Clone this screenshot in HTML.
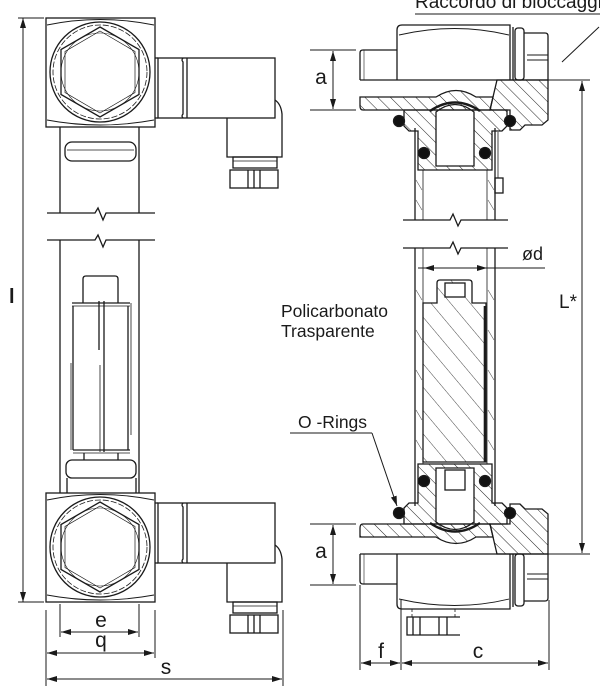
<!DOCTYPE html>
<html><head><meta charset="utf-8"><style>
html,body{margin:0;padding:0;background:#fff}
svg{display:block}
text{font-family:"Liberation Sans",Arial,sans-serif;fill:#1a1a1a}
</style></head><body>
<svg width="600" height="693" viewBox="0 0 600 693" xmlns="http://www.w3.org/2000/svg">
<defs>
<pattern id="h" patternUnits="userSpaceOnUse" width="9" height="9" patternTransform="rotate(-45)">
<line x1="0" y1="0" x2="0" y2="9" stroke="#222" stroke-width="1"/>
</pattern>
<pattern id="h2" patternUnits="userSpaceOnUse" width="9" height="9" patternTransform="rotate(45)">
<line x1="0" y1="0" x2="0" y2="9" stroke="#222" stroke-width="1"/>
</pattern>
<pattern id="hf" patternUnits="userSpaceOnUse" width="15" height="15" patternTransform="rotate(-40)">
<line x1="0" y1="0" x2="0" y2="15" stroke="#333" stroke-width="0.9"/>
</pattern>
<marker id="ar" viewBox="0 0 10 6" refX="10" refY="3" markerWidth="10" markerHeight="6" markerUnits="userSpaceOnUse" orient="auto-start-reverse">
<path d="M0,0 L10,3 L0,6 Z" fill="#1a1a1a"/>
</marker>

<g id="blk" fill="none" stroke="#1a1a1a" stroke-width="1.3">
<rect x="46" y="18" width="109" height="109"/>
<path d="M47,25 Q100,14 154,25" stroke-width="0.9"/>
<path d="M47,120 Q100,130 154,120" stroke-width="0.9"/>
<circle cx="100" cy="72" r="50"/>
<circle cx="100" cy="72" r="47" stroke-width="0.8" stroke-dasharray="6 2"/>
<polygon points="100,27 139,49.5 139,94.5 100,117 61,94.5 61,49.5"/>
<polygon points="100,31 135,51.5 135,92.5 100,113 65,92.5 65,51.5" stroke-width="0.7"/>
<circle cx="100" cy="72" r="39" stroke-width="0.6"/>
</g>

<g id="con" fill="none" stroke="#1a1a1a" stroke-width="1.3">
<line x1="155" y1="58" x2="158" y2="58"/>
<line x1="155" y1="118" x2="158" y2="118"/>
<rect x="158" y="58" width="117" height="60"/>
<path d="M183,58 Q181,60 183,62 V114 Q181,116 183,118"/>
<path d="M187,58 V118"/>
<path d="M227,118 V157 H282 V114 Q281,104 275,100"/>
<rect x="233" y="157" width="44" height="11"/>
<line x1="233" y1="161" x2="277" y2="161" stroke-width="0.7"/>
<rect x="230" y="170" width="48" height="18"/>
<line x1="248" y1="170" x2="248" y2="188"/>
<line x1="254" y1="170" x2="254" y2="188"/>
<line x1="260" y1="170" x2="260" y2="188"/>
</g>

<g id="fitbase" stroke="#1a1a1a" stroke-width="1.3">
<path d="M397,80 V30 Q397,25 402,25 H510 V80" fill="none"/>
<path d="M399,35 Q455,22 509,35" fill="none" stroke-width="0.9"/>
<line x1="513" y1="27" x2="513" y2="80"/>
<path d="M397,50 H363 Q360,50 360,53 V80" fill="none"/>
<line x1="364" y1="50" x2="364" y2="80" stroke-width="0.6"/>
<rect x="515" y="28" width="9" height="52" rx="3" fill="none"/>
<path d="M524,33 H545 Q548,33 548,36 V80" fill="none"/>
<line x1="527" y1="55" x2="548" y2="55" stroke-width="0.9"/>
<line x1="527" y1="60" x2="548" y2="60" stroke-width="0.9"/>
<line x1="360" y1="80" x2="548" y2="80"/>
<path d="M430,111 Q455,94 480,111" fill="none" stroke-width="2.4"/>
<circle cx="399" cy="121" r="5.5" fill="#111"/>
<circle cx="510" cy="121" r="5.5" fill="#111"/>
<circle cx="424" cy="153" r="5.5" fill="#111"/>
<circle cx="485" cy="153" r="5.5" fill="#111"/>
</g>
<g id="fit" stroke="#1a1a1a" stroke-width="1.3">
<path d="M360,97 H436 Q456,84 476,97 H493 L490,110 H363 Q360,110 360,106 Z" fill="url(#h)"/>
<path d="M497,80 H548 V120 L542,125 H525 L520,130 H510 V110 H490 L493,97 Z" fill="url(#h)"/>
<path fill-rule="evenodd" fill="url(#h)" d="M404,110 H507 V126 L502,131 H492 V170 H418 V131 H409 L404,126 Z M436,112 Q455,97 474,112 V166 H436 Z"/>
<use href="#fitbase"/>
</g>
<g id="fitB" stroke="#1a1a1a" stroke-width="1.3">
<path d="M360,97 H436 Q456,84 476,97 H493 L490,110 H363 Q360,110 360,106 Z" fill="url(#h2)"/>
<path d="M497,80 H548 V120 L542,125 H525 L520,130 H510 V110 H490 L493,97 Z" fill="url(#h2)"/>
<path fill-rule="evenodd" fill="url(#h2)" d="M404,110 H507 V126 L502,131 H492 V170 H418 V131 H409 L404,126 Z M436,112 Q455,97 474,112 V166 H436 Z"/>
<use href="#fitbase"/>
</g>
</defs>

<g fill="none" stroke="#1a1a1a" stroke-width="1.3">
<!-- LEFT VIEW -->
<use href="#blk"/>
<use href="#blk" transform="translate(0,475)"/>
<use href="#con"/>
<use href="#con" transform="translate(0,445)"/>

<line x1="60" y1="127" x2="60" y2="213"/>
<line x1="139" y1="127" x2="139" y2="213"/>
<line x1="60" y1="240" x2="60" y2="493"/>
<line x1="139" y1="240" x2="139" y2="493"/>
<rect x="65" y="142" width="71" height="19" rx="7"/>
<line x1="67" y1="150" x2="134" y2="150" stroke-width="0.8"/>
<path d="M47,213 H95 L98,208 L103,220 L106,213 H155"/>
<path d="M47,240 H95 L98,235 L103,247 L106,240 H155"/>

<path d="M83,303 V279 Q83,276 86,276 H115 Q118,276 118,279 V303"/>
<line x1="72" y1="303" x2="130" y2="303"/>
<line x1="72" y1="306" x2="130" y2="306" stroke-width="0.7"/>
<line x1="73" y1="306" x2="73" y2="450"/>
<line x1="71" y1="363" x2="71" y2="450" stroke-width="0.8"/>
<line x1="128" y1="306" x2="128" y2="450"/>
<line x1="131" y1="303" x2="131" y2="435" stroke-width="0.8"/>
<line x1="99" y1="301" x2="99" y2="350"/>
<line x1="104" y1="301" x2="104" y2="452"/>
<line x1="100" y1="365" x2="100" y2="452" stroke-width="0.8"/>
<line x1="73" y1="450" x2="130" y2="450"/>
<line x1="73" y1="453" x2="130" y2="453" stroke-width="0.8"/>
<line x1="84" y1="453" x2="84" y2="460"/>
<line x1="118" y1="453" x2="118" y2="460"/>
<rect x="66" y="460" width="70" height="18" rx="6"/>
<line x1="67" y1="478" x2="67" y2="493"/>
<line x1="136" y1="478" x2="136" y2="493"/>

<line x1="18" y1="18" x2="44" y2="18" stroke-width="1"/>
<line x1="18" y1="602" x2="44" y2="602" stroke-width="1"/>
<line x1="23" y1="18" x2="23" y2="602" stroke-width="1" marker-start="url(#ar)" marker-end="url(#ar)"/>

<line x1="60" y1="604" x2="60" y2="637" stroke-width="1"/>
<line x1="139" y1="604" x2="139" y2="637" stroke-width="1"/>
<line x1="61" y1="632" x2="138" y2="632" stroke-width="1" marker-start="url(#ar)" marker-end="url(#ar)"/>
<line x1="46" y1="610" x2="46" y2="686" stroke-width="1"/>
<line x1="155" y1="610" x2="155" y2="658" stroke-width="1"/>
<line x1="47" y1="653" x2="154" y2="653" stroke-width="1" marker-start="url(#ar)" marker-end="url(#ar)"/>
<line x1="283" y1="610" x2="283" y2="686" stroke-width="1"/>
<line x1="47" y1="679" x2="282" y2="679" stroke-width="1" marker-start="url(#ar)" marker-end="url(#ar)"/>

<!-- RIGHT VIEW -->
<use href="#fit"/>
<use href="#fitB" transform="matrix(1,0,0,-1,0,634)"/>

<line x1="415" y1="128" x2="415" y2="220"/>
<line x1="495" y1="128" x2="495" y2="220"/>
<line x1="423" y1="170" x2="423" y2="220" stroke-width="0.8"/>
<line x1="487" y1="170" x2="487" y2="220" stroke-width="0.8"/>
<line x1="415" y1="248" x2="415" y2="506"/>
<line x1="495" y1="248" x2="495" y2="506"/>
<line x1="423" y1="248" x2="423" y2="464" stroke-width="0.8"/>
<line x1="487" y1="248" x2="487" y2="464" stroke-width="0.8"/>
<line x1="498" y1="132" x2="498" y2="178" stroke-width="0.8"/>
<rect x="495" y="178" width="8" height="15"/>
<path d="M403,220 H450 L453,214 L458,226 L461,220 H508"/>
<path d="M403,248 H450 L453,242 L458,254 L461,248 H508"/>

<g stroke-width="0.6" stroke="#555">
<path d="M416,180 l6,10 M416,200 l6,10 M488,180 l6,10 M488,200 l6,10 M416,290 l6,10 M416,330 l6,10 M416,370 l6,10 M416,410 l6,10 M488,290 l6,10 M488,330 l6,10 M488,370 l6,10 M488,410 l6,10 M488,440 l6,10 M416,440 l6,10"/>
</g>

<path d="M423,303 H437 V283 Q437,280 440,280 H469 Q472,280 472,283 V303 H486 V462 H423 Z" fill="url(#hf)"/>
<rect x="445" y="283" width="20" height="14" fill="#fff"/>
<line x1="485" y1="306" x2="485" y2="462" stroke-width="2.6"/>
<rect x="445" y="470" width="20" height="20" fill="#fff"/>

<line x1="418" y1="268" x2="545" y2="268" stroke-width="1"/>
<line x1="430" y1="268" x2="424" y2="268" stroke-width="1" marker-end="url(#ar)"/>
<line x1="480" y1="268" x2="487" y2="268" stroke-width="1" marker-end="url(#ar)"/>

<line x1="310" y1="50" x2="356" y2="50" stroke-width="1"/>
<line x1="310" y1="110" x2="356" y2="110" stroke-width="1"/>
<line x1="333" y1="51" x2="333" y2="109" stroke-width="1" marker-start="url(#ar)" marker-end="url(#ar)"/>
<line x1="310" y1="524" x2="356" y2="524" stroke-width="1"/>
<line x1="310" y1="585" x2="356" y2="585" stroke-width="1"/>
<line x1="333" y1="525" x2="333" y2="584" stroke-width="1" marker-start="url(#ar)" marker-end="url(#ar)"/>

<line x1="548" y1="80" x2="590" y2="80" stroke-width="1"/>
<line x1="548" y1="554" x2="590" y2="554" stroke-width="1"/>
<line x1="582" y1="81" x2="582" y2="553" stroke-width="1" marker-start="url(#ar)" marker-end="url(#ar)"/>

<line x1="415" y1="14" x2="600" y2="14" stroke-width="1"/>
<line x1="599" y1="27" x2="562" y2="62" stroke-width="1"/>

<line x1="290" y1="433" x2="372" y2="433" stroke-width="1"/>
<line x1="372" y1="433" x2="397" y2="506" stroke-width="1" marker-end="url(#ar)"/>

<path d="M412,609 V617 M455,609 V617" stroke-width="0.8" stroke-dasharray="3 2"/>
<path d="M460,617 H407 V635 H460" />
<line x1="413" y1="617" x2="413" y2="635"/>
<line x1="420" y1="617" x2="420" y2="635"/>
<line x1="439" y1="617" x2="439" y2="635"/>
<line x1="447" y1="617" x2="447" y2="635"/>

<line x1="360" y1="585" x2="360" y2="670" stroke-width="1"/>
<line x1="401" y1="600" x2="401" y2="670" stroke-width="1"/>
<line x1="549" y1="600" x2="549" y2="670" stroke-width="1"/>
<line x1="361" y1="663" x2="400" y2="663" stroke-width="1" marker-start="url(#ar)" marker-end="url(#ar)"/>
<line x1="402" y1="663" x2="548" y2="663" stroke-width="1" marker-start="url(#ar)" marker-end="url(#ar)"/>
</g>

<text x="9" y="303" font-size="20" font-weight="bold">l</text>
<text x="101" y="627" font-size="21" text-anchor="middle">e</text>
<text x="101" y="647" font-size="21" text-anchor="middle">q</text>
<text x="166" y="674" font-size="21" text-anchor="middle">s</text>
<text x="321" y="84" font-size="21" text-anchor="middle">a</text>
<text x="321" y="558" font-size="21" text-anchor="middle">a</text>
<text x="381" y="658" font-size="21" text-anchor="middle">f</text>
<text x="478" y="658" font-size="21" text-anchor="middle">c</text>
<text x="522" y="260" font-size="18">ød</text>
<text x="559" y="308" font-size="19">L*</text>
<text x="281" y="317" font-size="17.5">Policarbonato</text>
<text x="281" y="337" font-size="17.5">Trasparente</text>
<text x="298" y="428" font-size="17.5">O -Rings</text>
<text x="415" y="8" font-size="19">Raccordo di bloccaggio</text>
</svg>
</body></html>
